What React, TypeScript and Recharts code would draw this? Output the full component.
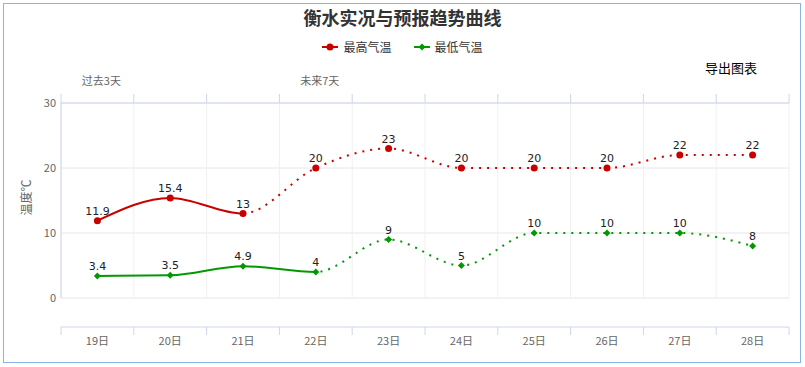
import { LineChart, Line, XAxis, YAxis, CartesianGrid, LabelList, Label } from 'recharts';

// 衡水实况与预报 - 最高/最低气温
const days = ['19日', '20日', '21日', '22日', '23日', '24日', '25日', '26日', '27日', '28日'];
const maxTemps = [11.9, 15.4, 13, 20, 23, 20, 20, 20, 22, 22];
const minTemps = [3.4, 3.5, 4.9, 4, 9, 5, 10, 10, 10, 8];
// index of the last observed day: solid before, dotted (forecast) after
const maxLiveUntil = 2;
const minLiveUntil = 3;
const periodNotes = ['过去3天', '', '', '未来7天', '', '', '', '', '', ''];
const yTicks = [0, 10, 20, 30];

const RED = '#c80000';
const GREEN = '#009900';
const AXIS = '#ccd6eb';
const CJK = '"Noto Sans CJK SC", "Noto Sans", sans-serif';

const data = days.map((day, i) => ({ i, day, max: maxTemps[i], min: minTemps[i] }));
const centers = days.map((_, i) => i);
const edges = [...centers.map((i) => i - 0.5), days.length - 0.5];
const noteTicks = centers.filter((i) => periodNotes[i]);
const xDomain: [number, number] = [-0.5, days.length - 0.5];
const maxSplit = maxLiveUntil / (days.length - 1);
const minSplit = minLiveUntil / (days.length - 1);

const noText = () => '';

const redDot = (p: any) => <circle key={`r${p.index}`} cx={p.cx} cy={p.cy} r={3.5} fill={RED} />;
const greenDot = (p: any) => (
  <path
    key={`g${p.index}`}
    d={`M${p.cx},${p.cy - 3.5}L${p.cx + 3.5},${p.cy}L${p.cx},${p.cy + 3.5}L${p.cx - 3.5},${p.cy}Z`}
    fill={GREEN}
  />
);

const LegendItem = ({ color, name, round, gap }: { color: string; name: string; round: boolean; gap: number }) => (
  <span style={{ display: 'inline-flex', alignItems: 'center', marginRight: gap }}>
    <svg width={16} height={10} style={{ marginRight: 5 }}>
      <line x1={0} y1={5} x2={16} y2={5} stroke={color} strokeWidth={2} />
      {round ? <circle cx={8} cy={5} r={3.5} fill={color} /> : <path d="M8,1.5L11.5,5L8,8.5L4.5,5Z" fill={color} />}
    </svg>
    {name}
  </span>
);

export default function App() {
  const labelStyle = { fill: '#222', fontSize: 11, fontFamily: '"DejaVu Sans", sans-serif' };
  const axisTick = { fill: '#666', fontSize: 11, fontFamily: CJK };

  return (
    <div style={{ position: 'absolute', left: 0, top: 0, width: 805, height: 367, fontFamily: CJK }}>
      <div
        style={{
          position: 'absolute', left: 3, top: 3, width: 798, height: 360,
          border: '1px solid #88b4e6', boxSizing: 'border-box',
        }}
      />
      <div style={{ position: 'absolute', left: 0, top: 6, width: 805, textAlign: 'center', fontSize: 18, fontWeight: 'bold', color: '#333', lineHeight: '22px' }}>
        衡水实况与预报趋势曲线
      </div>
      <div style={{ position: 'absolute', left: 0, top: 38, width: 805, display: 'flex', justifyContent: 'center', fontSize: 12, color: '#333', lineHeight: '18px' }}>
        <LegendItem color={RED} name="最高气温" round gap={22} />
        <LegendItem color={GREEN} name="最低气温" round={false} gap={0} />
      </div>
      <div style={{ position: 'absolute', left: 705, top: 59, fontSize: 13, color: '#000', lineHeight: '18px' }}>导出图表</div>

      <div style={{ position: 'absolute', left: 0, top: 0 }}>
        <LineChart width={805} height={367} data={data} margin={{ top: 0, right: 16, bottom: 11, left: 0 }}>
          <defs>
            <linearGradient id="maxLive" x1="0" y1="0" x2="1" y2="0">
              <stop offset={maxSplit} stopColor={RED} stopOpacity={1} />
              <stop offset={maxSplit} stopColor={RED} stopOpacity={0} />
            </linearGradient>
            <linearGradient id="maxFcst" x1="0" y1="0" x2="1" y2="0">
              <stop offset={maxSplit} stopColor={RED} stopOpacity={0} />
              <stop offset={maxSplit} stopColor={RED} stopOpacity={1} />
            </linearGradient>
            <linearGradient id="minLive" x1="0" y1="0" x2="1" y2="0">
              <stop offset={minSplit} stopColor={GREEN} stopOpacity={1} />
              <stop offset={minSplit} stopColor={GREEN} stopOpacity={0} />
            </linearGradient>
            <linearGradient id="minFcst" x1="0" y1="0" x2="1" y2="0">
              <stop offset={minSplit} stopColor={GREEN} stopOpacity={0} />
              <stop offset={minSplit} stopColor={GREEN} stopOpacity={1} />
            </linearGradient>
          </defs>

          <CartesianGrid xAxisId="b_line" yAxisId="y" vertical={false} stroke="#e6e6e6" />
          <CartesianGrid xAxisId="b_line" yAxisId="y" horizontal={false} stroke="#f0f0f0" />

          {/* bottom (stacked by id): empty gap, then the line with edge ticks, then the day labels */}
          <XAxis xAxisId="a_gap" type="number" dataKey="i" domain={xDomain} ticks={centers} height={29}
            axisLine={false} tickLine={false} tickFormatter={noText} />
          <XAxis xAxisId="b_line" type="number" dataKey="i" domain={xDomain} ticks={edges} interval={0} height={9}
            axisLine={{ stroke: AXIS }} tickLine={{ stroke: AXIS }} tickSize={8} tickFormatter={noText} />
          <XAxis xAxisId="c_days" type="number" dataKey="i" domain={xDomain} ticks={centers} interval={0} height={20}
            axisLine={false} tickLine={false} tickSize={0} tickMargin={1} tick={axisTick}
            tickFormatter={(v: number) => days[v]} />

          {/* top: edge ticks, then period notes */}
          <XAxis xAxisId="t_line" orientation="top" type="number" dataKey="i" domain={xDomain} ticks={edges} interval={0} height={9}
            axisLine={{ stroke: AXIS }} tickLine={{ stroke: AXIS }} tickSize={9} tickFormatter={noText} />
          <XAxis xAxisId="u_notes" orientation="top" type="number" dataKey="i" domain={xDomain} ticks={noteTicks} interval={0} height={94}
            axisLine={false} tickLine={false} tickSize={0} tickMargin={9} tick={{ ...axisTick, dx: 4 }}
            tickFormatter={(v: number) => periodNotes[v]} />

          <YAxis yAxisId="y" width={61} domain={[0, 30]} ticks={yTicks} interval={0}
            axisLine={{ stroke: AXIS }} tickLine={false} tickSize={0} tickMargin={5} tick={axisTick}>
            <Label
              content={(p: any) => {
                const vb = p.viewBox;
                const cx = vb.x + 25;
                const cy = vb.y + vb.height / 2 - 3;
                return (
                  <text x={cx} y={cy} transform={`rotate(-90, ${cx}, ${cy})`} textAnchor="middle" dominantBaseline="central"
                    fill="#666" fontSize={12} fontFamily={CJK}>
                    温度℃
                  </text>
                );
              }}
            />
          </YAxis>

          <Line xAxisId="b_line" yAxisId="y" type="monotone" dataKey="max" stroke="url(#maxLive)" strokeWidth={2}
            dot={false} activeDot={false} isAnimationActive={false} />
          <Line xAxisId="b_line" yAxisId="y" type="monotone" dataKey="max" stroke="url(#maxFcst)" strokeWidth={2}
            strokeDasharray="2 6" dot={redDot} activeDot={false} isAnimationActive={false}>
            <LabelList dataKey="max" position="top" offset={6} style={labelStyle} />
          </Line>
          <Line xAxisId="b_line" yAxisId="y" type="monotone" dataKey="min" stroke="url(#minLive)" strokeWidth={2}
            dot={false} activeDot={false} isAnimationActive={false} />
          <Line xAxisId="b_line" yAxisId="y" type="monotone" dataKey="min" stroke="url(#minFcst)" strokeWidth={2}
            strokeDasharray="2 6" dot={greenDot} activeDot={false} isAnimationActive={false}>
            <LabelList dataKey="min" position="top" offset={6} style={labelStyle} />
          </Line>
        </LineChart>
      </div>
    </div>
  );
}
